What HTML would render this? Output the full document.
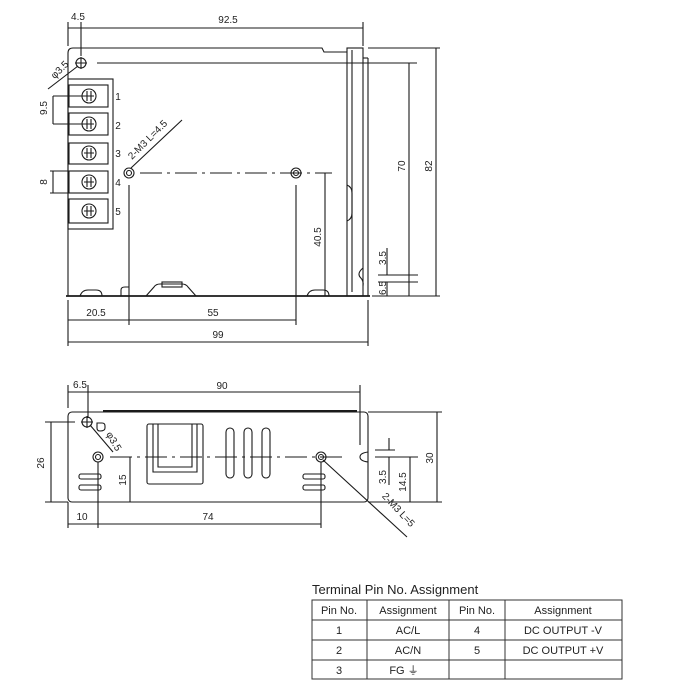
<!DOCTYPE html>
<html><head><meta charset="utf-8"><style>
html,body{margin:0;padding:0;background:#fff;}
svg{display:block;font-family:"Liberation Sans",Arial,sans-serif;}
text{fill:#222;}
</style></head><body>
<svg width="700" height="700" viewBox="0 0 700 700" xmlns="http://www.w3.org/2000/svg">
<g stroke="#1a1a1a" stroke-width="1.1" fill="none">
<!-- TOP VIEW -->
<path d="M68,296 L68,53 Q68,48 73,48 L322,48 L324,52 L347,52"/>
<rect x="347" y="48" width="16" height="248"/>
<line x1="352" y1="50" x2="352" y2="292"/>
<line x1="363" y1="58" x2="368" y2="58"/><line x1="368" y1="58" x2="368" y2="296"/>
<path d="M347,185 q5,2 5,8 v20 q0,6 -5,8"/>
<line x1="66" y1="296" x2="370" y2="296" stroke-width="1.7"/>
<path d="M363,268 q-6,5 -3,9 q4,4 3,9"/>
<path d="M80,296 q2,-6 8,-6 h8 q6,0 6,6"/>
<path d="M121,296 v-6 q0,-3 4,-3 h4"/>
<path d="M146,296 l8,-9 q2,-3 6,-3 h22 q4,0 6,3 l8,9"/>
<rect x="162" y="282" width="20" height="5"/>
<path d="M307,296 q2,-6 8,-6 h8 q6,0 6,6"/>
<rect x="68" y="79" width="45" height="150"/>
<rect x="69" y="85" width="39" height="22"/><rect x="69" y="113" width="39" height="22"/>
<rect x="69" y="143" width="39" height="21"/><rect x="69" y="171" width="39" height="22"/>
<rect x="69" y="199" width="39" height="24"/>
<g>
<circle cx="89" cy="96" r="7"/><circle cx="89" cy="124" r="7"/><circle cx="89" cy="153" r="7"/><circle cx="89" cy="182" r="7"/><circle cx="89" cy="211" r="7"/>
<path d="M87,91v10M91,91v10M84,96h10"/><path d="M87,119v10M91,119v10M84,124h10"/><path d="M87,148v10M91,148v10M84,153h10"/><path d="M87,177v10M91,177v10M84,182h10"/><path d="M87,206v10M91,206v10M84,211h10"/>
</g>
<circle cx="81" cy="63" r="5"/><path d="M75,63h12M81,57v12"/>
<line x1="97" y1="63" x2="417" y2="63"/>
<circle cx="129" cy="173" r="5"/><circle cx="129" cy="173" r="2.5"/>
<circle cx="296" cy="173" r="5"/><circle cx="296" cy="173" r="2.5"/>
<line x1="140" y1="173" x2="332" y2="173" stroke-dasharray="22,5,3,5"/>
<line x1="129" y1="185" x2="129" y2="325"/><line x1="296" y1="185" x2="296" y2="325"/>
<line x1="131" y1="168" x2="182" y2="120"/>
<line x1="48" y1="89" x2="78" y2="66"/>
<line x1="68" y1="22" x2="68" y2="46"/><line x1="81" y1="22" x2="81" y2="56"/><line x1="363" y1="22" x2="363" y2="46"/>
<line x1="68" y1="28" x2="363" y2="28"/>
<line x1="325" y1="173" x2="325" y2="296"/>
<line x1="409" y1="63" x2="409" y2="296"/><line x1="436" y1="48" x2="436" y2="296"/>
<line x1="368" y1="48" x2="440" y2="48"/><line x1="372" y1="296" x2="440" y2="296"/>
<line x1="378" y1="275" x2="418" y2="275"/><line x1="378" y1="282" x2="418" y2="282"/>
<line x1="387" y1="248" x2="387" y2="275"/><line x1="387" y1="282" x2="387" y2="296"/>
<line x1="53" y1="96" x2="53" y2="124"/><line x1="53" y1="96" x2="86" y2="96"/><line x1="53" y1="124" x2="86" y2="124"/>
<line x1="53" y1="171" x2="53" y2="193"/><line x1="50" y1="171" x2="68" y2="171"/><line x1="50" y1="193" x2="68" y2="193"/>
<line x1="68" y1="300" x2="68" y2="346"/><line x1="368" y1="300" x2="368" y2="346"/>
<line x1="68" y1="320" x2="296" y2="320"/><line x1="68" y1="342" x2="368" y2="342"/>

<!-- BOTTOM VIEW -->
<rect x="68" y="412" width="300" height="90" rx="4"/>
<line x1="103" y1="411" x2="357" y2="411" stroke-width="2"/>
<circle cx="87" cy="422" r="5"/><path d="M81,422h12M87,416v12"/>
<path d="M97,423 h5 q3,0 3,3 v2 q0,3 -5,3 q-3,0 -3,-3z"/>
<rect x="147" y="424" width="56" height="60" rx="2"/>
<path d="M150,424 h50"/><path d="M153,424 v48 h44 v-48"/><path d="M158,424 v43 h34 v-43"/>
<rect x="226" y="428" width="8" height="50" rx="4"/><rect x="244" y="428" width="8" height="50" rx="4"/><rect x="262" y="428" width="8" height="50" rx="4"/>
<circle cx="98" cy="457" r="5"/><circle cx="98" cy="457" r="2.5"/>
<circle cx="321" cy="457" r="5"/><circle cx="321" cy="457" r="2.5"/>
<line x1="110" y1="457" x2="345" y2="457" stroke-dasharray="22,5,3,5"/>
<rect x="79" y="474" width="22" height="5" rx="2"/><rect x="79" y="485" width="22" height="5" rx="2"/>
<rect x="303" y="474" width="22" height="5" rx="2"/><rect x="303" y="485" width="22" height="5" rx="2"/>
<path d="M368,452 q-8,1 -8,5 q0,4 8,5"/>
<line x1="90" y1="425" x2="113" y2="452"/>
<line x1="323" y1="460" x2="407" y2="537"/>
<line x1="68" y1="385" x2="68" y2="408"/><line x1="88" y1="385" x2="88" y2="418"/><line x1="360" y1="385" x2="360" y2="445"/>
<line x1="68" y1="392" x2="360" y2="392"/>
<line x1="51" y1="422" x2="51" y2="502"/><line x1="45" y1="422" x2="75" y2="422"/><line x1="45" y1="502" x2="68" y2="502"/>
<line x1="130" y1="457" x2="130" y2="502"/>
<line x1="68" y1="502" x2="68" y2="528"/><line x1="98" y1="462" x2="98" y2="528"/><line x1="321" y1="462" x2="321" y2="528"/>
<line x1="68" y1="524" x2="321" y2="524"/>
<line x1="437" y1="412" x2="437" y2="502"/><line x1="410" y1="457" x2="410" y2="502"/>
<line x1="368" y1="412" x2="442" y2="412"/><line x1="375" y1="457" x2="418" y2="457"/><line x1="368" y1="502" x2="442" y2="502"/>
<line x1="375" y1="450" x2="395" y2="450"/><line x1="389" y1="438" x2="389" y2="450"/><line x1="389" y1="457" x2="389" y2="485"/>
</g>
<g font-size="10" text-anchor="middle">
<text x="78" y="20">4.5</text><text x="228" y="23">92.5</text>
<text x="118" y="100">1</text><text x="118" y="129">2</text><text x="118" y="157">3</text><text x="118" y="186">4</text><text x="118" y="215">5</text>
<text transform="translate(47,108) rotate(-90)">9.5</text>
<text transform="translate(47,182) rotate(-90)">8</text>
<text transform="translate(62,72) rotate(-45)">φ3.5</text>
<text transform="translate(150,142) rotate(-45)">2-M3 L=4.5</text>
<text transform="translate(321,237) rotate(-90)">40.5</text>
<text transform="translate(405,166) rotate(-90)">70</text>
<text transform="translate(432,166) rotate(-90)">82</text>
<text transform="translate(386,258) rotate(-90)">3.5</text>
<text transform="translate(386,288) rotate(-90)">6.5</text>
<text x="96" y="316">20.5</text><text x="213" y="316">55</text><text x="218" y="338">99</text>
<text x="80" y="388">6.5</text><text x="222" y="389">90</text>
<text transform="translate(111,443) rotate(60)">φ3.5</text>
<text transform="translate(44,463) rotate(-90)">26</text>
<text transform="translate(126,480) rotate(-90)">15</text>
<text x="82" y="520">10</text><text x="208" y="520">74</text>
<text transform="translate(433,458) rotate(-90)">30</text>
<text transform="translate(406,482) rotate(-90)">14.5</text>
<text transform="translate(386,477) rotate(-90)">3.5</text>
<text transform="translate(396,512) rotate(47)">2-M3 L=5</text>
</g>
<text x="312" y="594" font-size="13">Terminal Pin No.  Assignment</text>
<g stroke="#333" stroke-width="1" fill="none">
<rect x="312" y="600" width="310" height="79"/>
<line x1="312" y1="620" x2="622" y2="620"/><line x1="312" y1="640" x2="622" y2="640"/><line x1="312" y1="660" x2="622" y2="660"/>
<line x1="367" y1="600" x2="367" y2="679"/><line x1="449" y1="600" x2="449" y2="679"/><line x1="505" y1="600" x2="505" y2="679"/>
</g>
<g font-size="11" text-anchor="middle">
<text x="339" y="614">Pin No.</text><text x="408" y="614">Assignment</text><text x="477" y="614">Pin No.</text><text x="563" y="614">Assignment</text>
<text x="339" y="634">1</text><text x="408" y="634">AC/L</text><text x="477" y="634">4</text><text x="563" y="634">DC OUTPUT -V</text>
<text x="339" y="654">2</text><text x="408" y="654">AC/N</text><text x="477" y="654">5</text><text x="563" y="654">DC OUTPUT +V</text>
<text x="339" y="674">3</text><text x="404" y="674">FG ⏚</text>
</g>
</svg>
</body></html>
